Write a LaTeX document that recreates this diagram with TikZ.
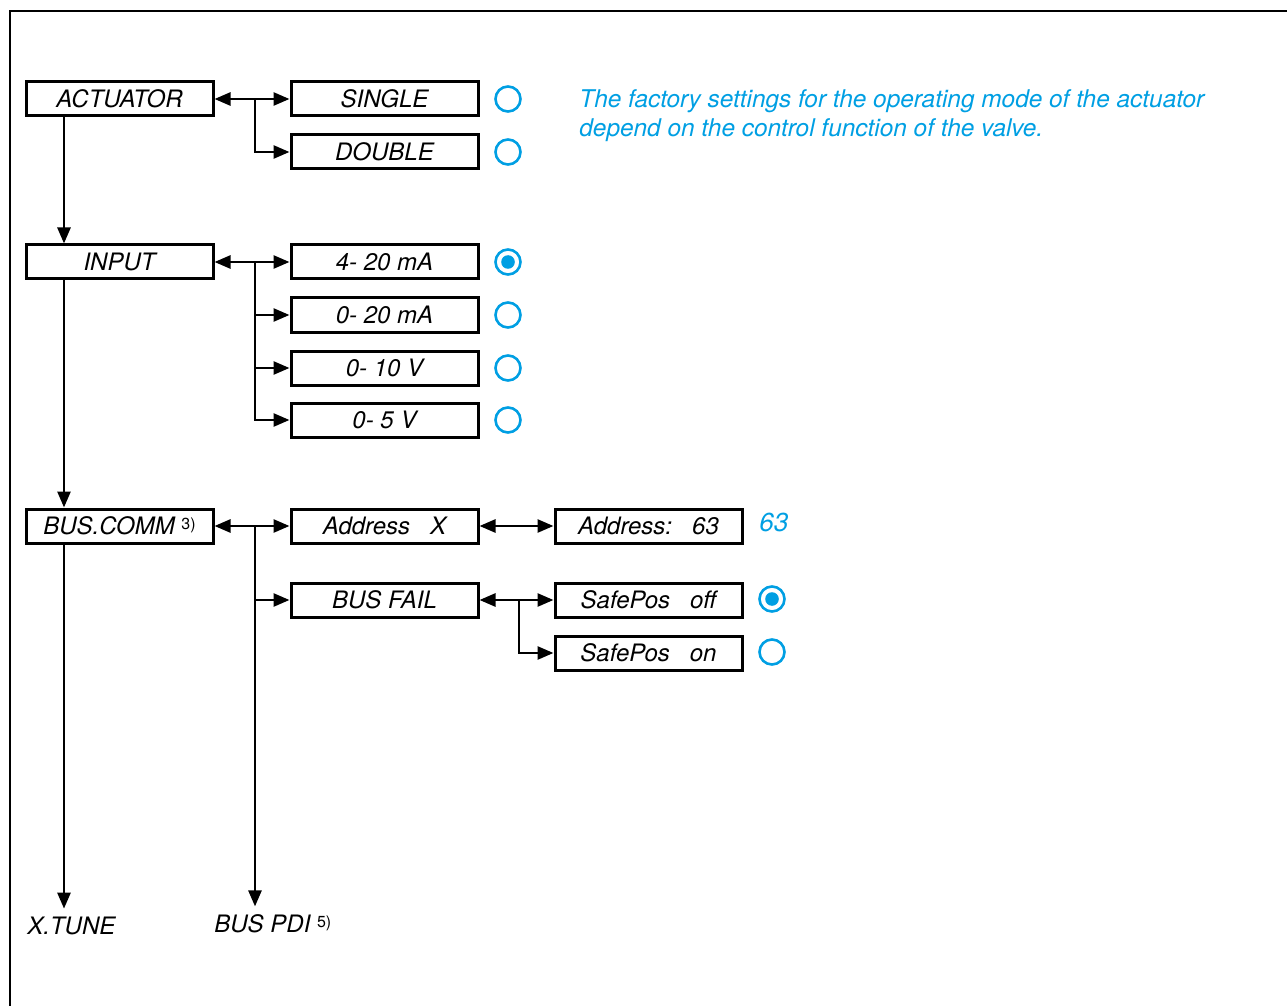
\documentclass[tikz,border=0pt]{standalone}
\usepackage{fontspec}
\setmainfont{TeX Gyre Heros}
\usetikzlibrary{arrows.meta,positioning}
\definecolor{radioblue}{RGB}{0,159,227}

\tikzset{
  menubox/.style={rectangle, draw=black, line width=1.5pt,
                  minimum width=93.5pt, minimum height=17pt, inner sep=0pt,
                  font=\itshape\fontsize{12}{14}\selectfont},
  plainlabel/.style={inner sep=0pt, font=\itshape\fontsize{12}{14}\selectfont},
  note/.style={inner sep=0pt, text=radioblue, font=\itshape\fontsize{12.2}{14}\selectfont},
  link/.style={line width=1.3pt, -{Triangle[length=8pt,width=6.5pt]}},
  dlink/.style={line width=1.3pt, {Triangle[length=8pt,width=6.5pt]}-{Triangle[length=8pt,width=6.5pt]}},
  radio/.style={circle, draw=radioblue, line width=1.3pt, minimum size=12.5pt, inner sep=0pt},
  radioon/.style={radio, path picture={\fill[radioblue] (path picture bounding box.center) circle (3.4pt);}}
}

\begin{document}
\begin{tikzpicture}[x=0.5pt,y=-0.5pt]
  \useasboundingbox (0,0) rectangle (1287,1006);
  % Marco
  \draw[line width=1.1pt] (10,1006) -- (10,11) -- (1287,11);

  % Menu principal
  \node[menubox] (actuator) at (119.5,99) {ACTUATOR};
  \node[menubox] (input) at (119.5,262) {INPUT};
  \node[menubox] (buscomm) at (119.5,526) {BUS.COMM {\upshape\fontsize{8}{9}\selectfont\raisebox{2.5pt}{3)}}};
  \coordinate (spine) at (64,0);
  \node[plainlabel, anchor=west] (xtune) at (27,926) {X.TUNE};
  \node[plainlabel, anchor=west] (buspdi) at (214,924) {BUS PDI {\upshape\fontsize{8}{9}\selectfont\raisebox{2.5pt}{5)}}};

  % Actuador
  \node[menubox] (single) at (384.5,99) {SINGLE};
  \node[menubox] (double) at (384.5,152) {DOUBLE};
  \node[radio] (rsingle) at (508,99) {};
  \node[radio] (rdouble) at (508,152) {};
  \node[note, anchor=base west] (note1) at (579,108)
       {The factory settings for the operating mode of the actuator};
  \node[note, anchor=base west] (note2) at (579,137)
       {depend on the control function of the valve.};

  % Entrada
  \node[menubox] (ma420) at (384.5,262) {4- 20 mA};
  \node[menubox] (ma020) at (384.5,315) {0- 20 mA};
  \node[menubox] (v010) at (384.5,368) {0- 10 V};
  \node[menubox] (v05) at (384.5,420) {0- 5 V};
  \node[radioon] (rma420) at (508,262) {};
  \node[radio] (rma020) at (508,315) {};
  \node[radio] (rv010) at (508,368) {};
  \node[radio] (rv05) at (508,420) {};

  % Bus
  \node[menubox] (addrx) at (384.5,526) {Address\ \ \ X};
  \node[menubox] (addr63) at (648.5,526) {Address:\ \ \ 63};
  \node[note, anchor=base west, font=\itshape\fontsize{13}{15}\selectfont] (val63) at (759,531) {63};
  \node[menubox] (busfail) at (384.5,600) {BUS FAIL};
  \node[menubox] (safeoff) at (648.5,600) {SafePos\ \ \ off};
  \node[menubox] (safeon) at (648.5,653) {SafePos\ \ \ on};
  \node[radioon] (rsafeoff) at (772,599) {};
  \node[radio] (rsafeon) at (772,652) {};

  % Conexiones
  \coordinate (actfork) at (255,99);
  \coordinate (infork) at (255,262);
  \coordinate (busfork) at (255,526);
  \coordinate (failfork) at (519,600);
  \draw[link] (actuator.south -| spine) -- (input.north -| spine);
  \draw[link] (input.south -| spine) -- (buscomm.north -| spine);
  \draw[link, shorten >=4pt] (buscomm.south -| spine) -- (xtune.north -| spine);
  \draw[dlink] (actuator) -- (single);
  \draw[link] (actfork) |- (double.west);
  \draw[dlink] (input) -- (ma420);
  \foreach \opt in {ma020,v010,v05}
    \draw[link] (infork) |- (\opt.west);
  \draw[dlink] (buscomm) -- (addrx);
  \draw[link] (busfork) |- (busfail.west);
  \draw[link, shorten >=4pt] (busfork) -- (buspdi.north -| busfork);
  \draw[dlink] (addrx) -- (addr63);
  \draw[dlink] (busfail) -- (safeoff);
  \draw[link] (failfork) |- (safeon.west);
\end{tikzpicture}
\end{document}
